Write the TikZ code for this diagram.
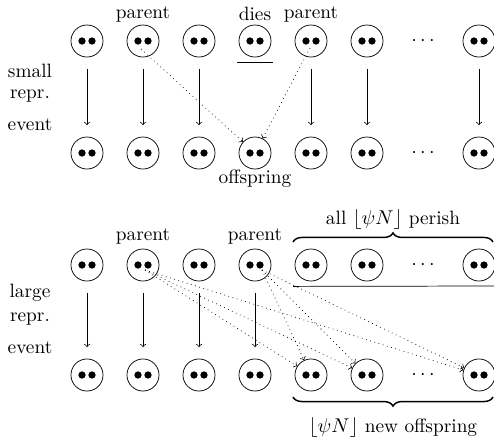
\documentclass[tikz,border=0pt]{standalone}
\usetikzlibrary{decorations.pathreplacing,calc}
\begin{document}
\begin{tikzpicture}[x=0.549pt,y=-0.549pt,font=\fontsize{10.6}{13}\selectfont,
  ind/.style={circle,draw,minimum size=17.6pt,inner sep=0pt,
    path picture={
      \fill ($(path picture bounding box.center)+(-5,0)$) circle (2pt);
      \fill ($(path picture bounding box.center)+(5,0)$) circle (2pt);}},
  lab/.style={inner sep=0pt},
  va/.style={->,shorten <=6.3pt,shorten >=6.3pt},
  da/.style={->,dotted},
  brc/.style={decorate,decoration={brace,amplitude=5pt},thick}]
\useasboundingbox (0,0) rectangle (494,445);
% rows of individuals
\foreach \i/\x in {1/87,2/143,3/199,4/255,5/311,6/367,8/479} {
  \node[ind] (t\i) at (\x,41) {};
  \node[ind] (b\i) at (\x,153) {};
  \node[ind] (l\i) at (\x,265) {};
  \node[ind] (m\i) at (\x,375) {};
}
\node[lab] (t7) at (423,41) {$\cdots$};
\node[lab] (b7) at (423,153) {$\cdots$};
\node[lab] (l7) at (423,265) {$\cdots$};
\node[lab] (m7) at (423,375) {$\cdots$};
% left labels
\node[lab] (s1) at (30,71) {small};
\node[lab] (s2) at (30,96) {repr.};
\node[lab] (s3) at (30,125) {event};
\node[lab] (g1) at (30,293) {large};
\node[lab] (g2) at (30,319) {repr.};
\node[lab] (g3) at (30,348) {event};
% top labels
\node[lab] (pa1) at (143,14) {parent};
\node[lab] (di) at (255,14) {dies};
\node[lab] (pa2) at (311,14) {parent};
\node[lab] (off) at (255,179) {offspring};
\node[lab] (pa3) at (143,236) {parent};
\node[lab] (pa4) at (255,236) {parent};
% vertical arrows
\foreach \i in {1,2,3,5,6,8} \draw[va] (t\i) -- (b\i);
\foreach \i in {1,2,3,4} \draw[va] (l\i) -- (m\i);
% underline of dying individual
\draw ($(t4.south)+(-18,5)$) -- ($(t4.south)+(18,5)$);
% dotted parent arrows, small event
\coordinate (st2) at ($(t2)+(-2,8)$);
\coordinate (st5) at ($(t5)+(-1,7)$);
\draw[da] (st2) -- (b4);
\draw[da] (st5) -- (b4);
% dotted parent arrows, large event
\coordinate (sl2) at ($(l2)+(2,5)$);
\coordinate (sl4) at ($(l4)+(7,5)$);
\foreach \j in {5,6,8} {
  \draw[da] (sl2) -- (m\j);
  \draw[da] (sl4) -- (m\j);
}
% perish line and braces
\coordinate (pl1) at ($(l5.south)+(-18,5)$);
\coordinate (pl2) at (494,286);
\draw (pl1) -- (pl2);
\coordinate (bra1) at (293,242);
\coordinate (bra2) at (493,242);
\draw[brc] (bra1) -- (bra2);
\node[lab] (per) at (393,220) {all $\lfloor\psi N\rfloor$ perish};
\coordinate (brb1) at (493,397);
\coordinate (brb2) at (293,397);
\draw[brc] (brb1) -- (brb2);
\node[lab] (nof) at (393,428) {$\lfloor\psi N\rfloor$ new offspring};
\end{tikzpicture}
\end{document}
